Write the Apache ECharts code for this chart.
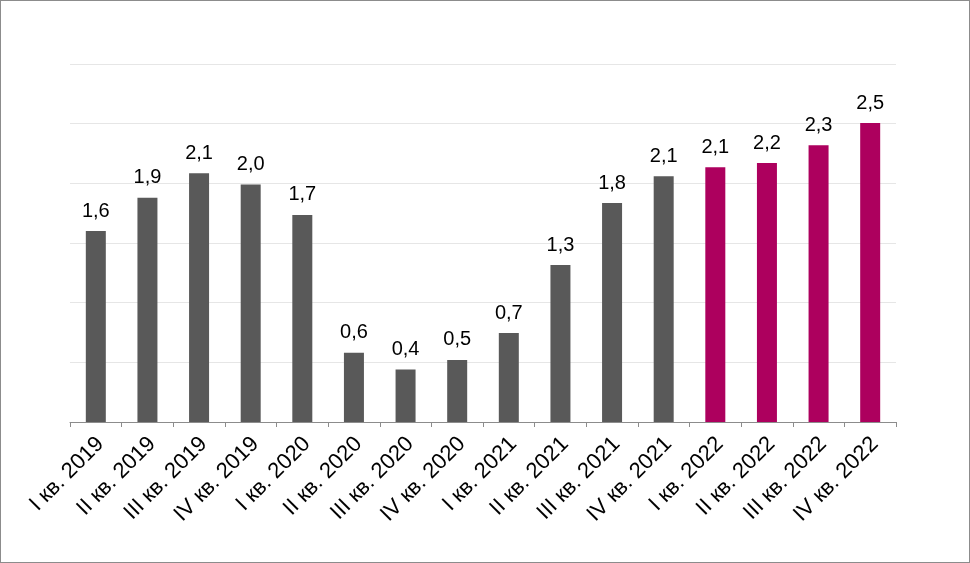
<!DOCTYPE html>
<html><head><meta charset="utf-8">
<script src="https://cdn.jsdelivr.net/npm/echarts@6/dist/echarts.min.js"></script>
<style>html,body{margin:0;padding:0;background:#fff}#c{width:970px;height:563px;box-sizing:border-box;border:1px solid #8c8c8c}</style>
</head><body><div id="c"></div>
<script>
const categories = ['I кв. 2019','II кв. 2019','III кв. 2019','IV кв. 2019','I кв. 2020','II кв. 2020','III кв. 2020','IV кв. 2020','I кв. 2021','II кв. 2021','III кв. 2021','IV кв. 2021','I кв. 2022','II кв. 2022','III кв. 2022','IV кв. 2022'];
const values = [1.60,1.88,2.085,1.99,1.735,0.58,0.44,0.52,0.745,1.315,1.835,2.06,2.135,2.17,2.32,2.505];
const forecastFrom = 12;
const colorActual = '#595959';
const colorForecast = '#AD005E';
const chart = echarts.init(document.getElementById('c'), null, {renderer:'canvas'});
chart.setOption({
  animation:false,
  grid:{left:69,right:73,top:63,bottom:140,containLabel:false},
  xAxis:{type:'category',data:categories,boundaryGap:true,
    axisLine:{lineStyle:{color:'#8c8c8c',width:1}},
    axisTick:{show:true,alignWithLabel:false,length:5,lineStyle:{color:'#8c8c8c'}},
    axisLabel:{interval:0,rotate:45,fontFamily:'Liberation Sans, Arial',fontSize:22,color:'#000',margin:14,
      verticalAlign:'top',lineHeight:13}},
  yAxis:{type:'value',min:0,max:3,interval:0.5,
    axisLine:{show:false},axisTick:{show:false},axisLabel:{show:false},
    splitLine:{lineStyle:{color:'#e6e6e6',width:1}}},
  series:[{type:'bar',barWidth:20,
    data:values.map((v,i)=>({value:v,itemStyle:{color:i>=forecastFrom?colorForecast:colorActual}})),
    label:{show:true,position:'top',distance:10,fontFamily:'Liberation Sans, Arial',fontSize:20,color:'#000',
      formatter:p=>p.value.toFixed(1).replace('.',',')}}]
});
</script></body></html>
